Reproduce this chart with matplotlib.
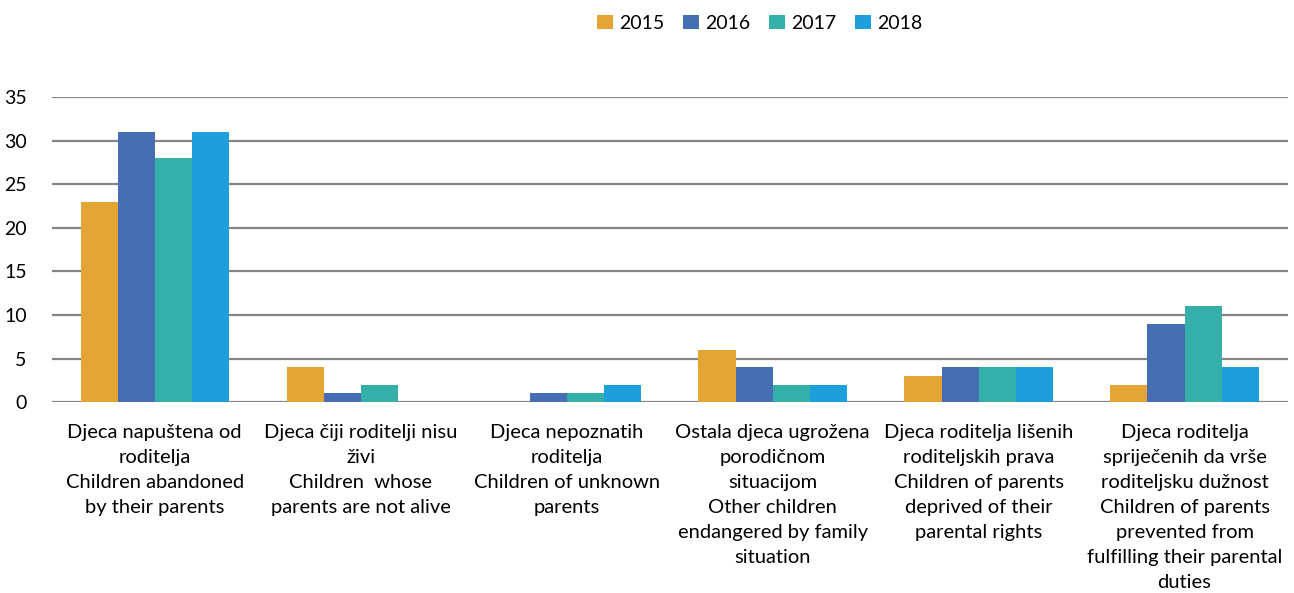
import matplotlib.pyplot as plt
import numpy as np

plt.rcParams['font.family'] = ['Lato', 'DejaVu Sans']

# kategorije
kategorije = [
    'Djeca napuštena od\nroditelja\nChildren abandoned\nby their parents',
    'Djeca čiji roditelji nisu\nživi\nChildren  whose\nparents are not alive',
    'Djeca nepoznatih\nroditelja\nChildren of unknown\nparents',
    'Ostala djeca ugrožena\nporodičnom\nsituacijom\nOther children\nendangered by family\nsituation',
    'Djeca roditelja lišenih\nroditeljskih prava\nChildren of parents\ndeprived of their\nparental rights',
    'Djeca roditelja\nspriječenih da vrše\nroditeljsku dužnost\nChildren of parents\nprevented from\nfulfilling their parental\nduties',
]

godine = ['2015', '2016', '2017', '2018']
v2015 = [23, 4, 0, 6, 3, 2]
v2016 = [31, 1, 1, 4, 4, 9]
v2017 = [28, 2, 1, 2, 4, 11]
v2018 = [31, 0, 2, 2, 4, 4]
boje = ['#E5A535', '#466EB4', '#35AFA9', '#1C9FDA']

fig = plt.figure(figsize=(12.94, 5.93), dpi=100)
ax = fig.add_axes([0.040, 0.322, 0.955, 0.514])

x = np.arange(len(kategorije))
w = 0.18
for i, (vals, c, g) in enumerate(zip([v2015, v2016, v2017, v2018], boje, godine)):
    ax.bar(x + (i - 1.5) * w, vals, w, color=c, label=g, zorder=3)

ax.set_xlim(-0.5, len(kategorije) - 0.5)
ax.set_ylim(0, 35)
ax.set_yticks(range(0, 36, 5))
ax.yaxis.grid(True, color='#858585', linewidth=1.6, zorder=0)
for s in ax.spines.values():
    s.set_visible(False)
ax.tick_params(axis='y', length=0, labelsize=14, pad=18)
ax.tick_params(axis='x', length=0, labelsize=14.5, pad=16)
ax.set_xticks(x)
ax.set_xticklabels(kategorije, linespacing=1.57)

fig.legend(loc='upper center', bbox_to_anchor=(0.587, 1.005), ncol=4, frameon=False,
           fontsize=14, handlelength=0.8, handleheight=0.8, handletextpad=0.3,
           columnspacing=1.0)

fig.savefig('out.png', dpi=100)
